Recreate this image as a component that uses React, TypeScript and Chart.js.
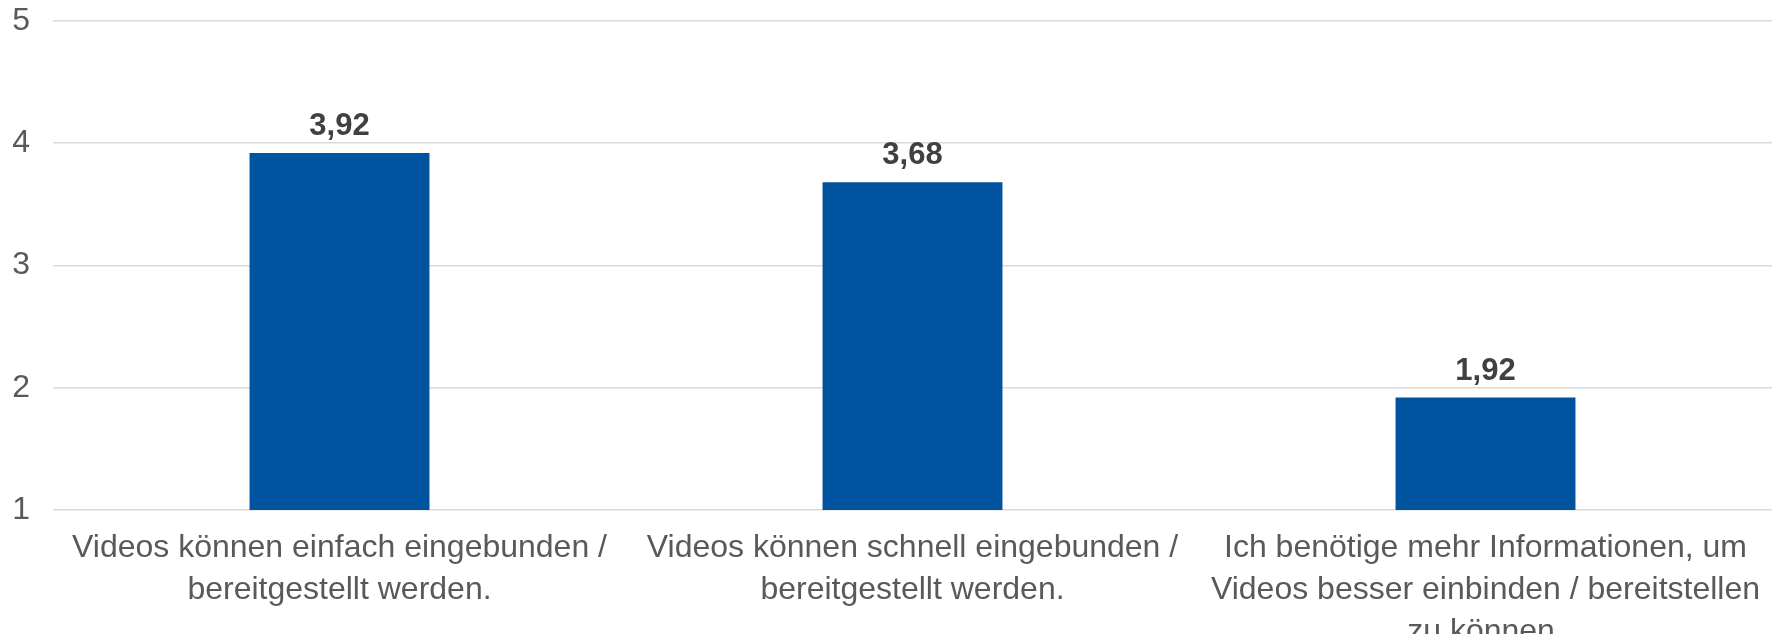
import React, { useEffect, useRef } from "react";
import { Chart, registerables } from "chart.js";

Chart.register(...registerables);

const categories: string[][] = [
  ["Videos können einfach eingebunden /", "bereitgestellt werden."],
  ["Videos können schnell eingebunden /", "bereitgestellt werden."],
  ["Ich benötige mehr Informationen, um", "Videos besser einbinden / bereitstellen", "zu können."],
];
const values: number[] = [3.92, 3.68, 1.92];
const yTicks: number[] = [1, 2, 3, 4, 5];

const FONT = "'Liberation Sans', Arial, sans-serif";

const valueLabelPlugin = {
  id: "valueLabels",
  afterDatasetsDraw(chart: any) {
    const ctx = chart.ctx;
    const meta = chart.getDatasetMeta(0);
    ctx.save();
    ctx.font = `bold 31px ${FONT}`;
    ctx.fillStyle = "#404040";
    ctx.textAlign = "center";
    ctx.textBaseline = "alphabetic";
    meta.data.forEach((bar: any, i: number) => {
      const txt = values[i].toFixed(2).replace(".", ",");
      ctx.fillText(txt, bar.x, bar.y - 18);
    });
    ctx.restore();
  },
};

export default function App() {
  const ref = useRef<HTMLCanvasElement | null>(null);
  useEffect(() => {
    document.body.style.margin = "0";
    document.body.style.overflow = "hidden";
    document.body.style.background = "#ffffff";
    const canvas = ref.current;
    if (!canvas) return;
    const chart = new Chart(canvas, {
      type: "bar",
      data: {
        labels: categories,
        datasets: [
          {
            data: values,
            backgroundColor: "#00539f",
            borderWidth: 0,
            categoryPercentage: 1,
            barPercentage: 0.314,
          },
        ],
      },
      options: {
        animation: false,
        responsive: false,
        devicePixelRatio: 1,
        layout: { padding: { top: 0, left: 0, right: 5, bottom: 0 } },
        plugins: {
          legend: { display: false },
          tooltip: { enabled: false },
        },
        scales: {
          x: {
            grid: { display: false },
            border: { display: false },
            ticks: {
              color: "#595959",
              font: { family: FONT, size: 32, lineHeight: "42px" },
              padding: 9,
              maxRotation: 0,
              autoSkip: false,
            },
            afterFit: (scale: any) => {
              scale.height = 124;
              scale.paddingLeft = 0;
              scale.paddingRight = 0;
            },
          },
          y: {
            min: 1,
            max: 5,
            afterBuildTicks: (scale: any) => {
              scale.ticks = yTicks.map((v) => ({ value: v }));
            },
            grid: { color: "#d9d9d9", lineWidth: 1.6, drawTicks: false },
            border: { display: false },
            ticks: {
              color: "#595959",
              font: { family: FONT, size: 32 },
              padding: 23,
            },
            afterFit: (scale: any) => {
              scale.width = 53;
              scale.paddingTop = 21;
              scale.paddingBottom = 0;
            },
          },
        },
      },
      plugins: [valueLabelPlugin],
    });
    return () => chart.destroy();
  }, []);
  return <canvas ref={ref} width={1777} height={634} style={{ display: "block", width: 1777, height: 634 }} />;
}
